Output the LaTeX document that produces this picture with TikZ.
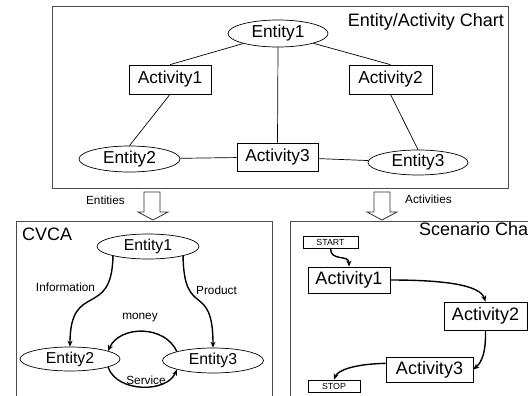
\documentclass[tikz,border=0pt]{standalone}
\usepackage{fontspec}
\setmainfont{Liberation Sans}
\usetikzlibrary{arrows.meta,shapes.geometric}
\begin{document}
\begin{tikzpicture}[x=1pt,y=-1pt,
  bigbox/.style={draw=black!70,line width=0.9pt},
  topent/.style={draw,ellipse,inner sep=0pt,line width=0.7pt,font=\fontsize{17.3}{20}\selectfont},
  topact/.style={draw,rectangle,inner sep=0pt,line width=0.7pt,font=\fontsize{17.3}{20}\selectfont},
  cvent/.style={draw,ellipse,inner sep=0pt,line width=0.7pt,font=\fontsize{15.8}{18}\selectfont},
  scact/.style={draw,rectangle,inner sep=0pt,line width=0.7pt,font=\fontsize{18}{21}\selectfont},
  term/.style={draw,rectangle,inner sep=0pt,line width=0.7pt,font=\fontsize{8.8}{10}\selectfont},
  link/.style={line width=0.7pt},
  flow/.style={line width=1.4pt,-{Stealth[length=6pt,width=5pt]}},
  lbl/.style={inner sep=0pt,font=\fontsize{11.8}{14}\selectfont},
  title/.style={inner sep=0pt,font=\fontsize{18}{21}\selectfont},
  hollow/.style={draw=black!80,line width=0.8pt,fill=white}]
\useasboundingbox (0,0) rectangle (528,396);
\clip (0,0) rectangle (528,396);

% ---- top chart ----
\draw[bigbox] (52,6) rectangle (508,188);
\node[title,anchor=base east] (ttop) at (504,27) {Entity/Activity Chart};
\node[topent,minimum width=100pt,minimum height=27pt] (e1) at (278,33.5) {Entity1};
\node[topact,minimum width=82pt,minimum height=29pt] (a1) at (170,79.5) {Activity1};
\node[topact,minimum width=83pt,minimum height=29pt] (a2) at (390.5,79.5) {Activity2};
\node[topent,minimum width=101pt,minimum height=26pt] (e2) at (129.5,159) {Entity2};
\node[topact,minimum width=81pt,minimum height=28pt] (a3) at (277.5,157) {Activity3};
\node[topent,minimum width=100pt,minimum height=25pt] (e3) at (418,162.5) {Entity3};
\draw[link] (e1) -- (a1.north);
\draw[link] (e1) -- (a2.north);
\draw[link] (e1.south) -- (a3.north);
\draw[link] (a1.south) -- (e2.north);
\draw[link] (a2.south) -- (e3.north);
\draw[link] (e2) -- (a3);
\draw[link] (a3) -- (e3);

% ---- hollow arrows ----
\draw[hollow] (144,192) -- (160,192) -- (160,212) -- (168,212) -- (153,220) -- (138,212) -- (144,212) -- cycle;
\draw[hollow] (374,192) -- (390,192) -- (390,212) -- (397,212) -- (382,220) -- (367,212) -- (374,212) -- cycle;
\node[lbl,anchor=east] (lent) at (125,200) {Entities};
\node[lbl,anchor=west] (lact) at (405,199) {Activities};

% ---- CVCA ----
\draw[bigbox] (16,221) rectangle (272,420);
\node[title,anchor=base west] (tcv) at (22,240) {CVCA};
\node[cvent,minimum width=102pt,minimum height=25pt] (c1) at (148,246.5) {Entity1};
\node[cvent,minimum width=100pt,minimum height=24pt] (c2) at (70,359) {Entity2};
\node[cvent,minimum width=101pt,minimum height=25pt] (c3) at (213,360.5) {Entity3};
\draw[flow] (c1.195) .. controls (112,320) and (70,280) .. (c2.north);
\draw[flow] (c1.-15) .. controls (184,320) and (213,280) .. (c3.north);
\draw[flow] (c3.166) .. controls (165,325) and (120,325) .. (c2.12);
\draw[flow] (c2.-12) .. controls (117,393) and (167,393) .. (c3.194);
\node[lbl] (linfo) at (65.5,287) {Information};
\node[lbl] (lprod) at (216.5,290) {Product};
\node[lbl] (lmon) at (140,318) {money};
\node[lbl] (lserv) at (146,380) {Service};

% ---- Scenario chart ----
\draw[bigbox] (290,221) rectangle (560,420);
\node[title,anchor=base west] (tsc) at (419,235) {Scenario Cha};
\node[term,minimum width=55pt,minimum height=12pt] (start) at (330.5,242) {START};
\node[scact,minimum width=82pt,minimum height=26pt] (s1) at (349,280) {Activity1};
\node[scact,minimum width=83pt,minimum height=28pt] (s2) at (485.5,316) {Activity2};
\node[scact,minimum width=87pt,minimum height=25pt] (s3) at (429.5,369.5) {Activity3};
\node[term,minimum width=52pt,minimum height=12pt] (stop) at (334,386) {STOP};
\draw[flow] (start.south) .. controls (330.5,262) and (349,254) .. (s1.north);
\draw[flow] (s1.east) .. controls (445,280) and (480,285) .. (s2.north);
\draw[flow] (s2.south) .. controls (486,352) and (482,362) .. (s3.east);
\draw[flow] (s3.172) .. controls (355,364) and (338,370) .. (stop.north);
\end{tikzpicture}
\end{document}
